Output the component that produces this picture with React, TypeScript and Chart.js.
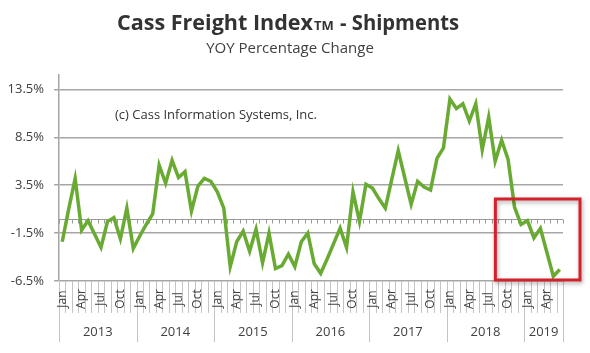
import React, { useEffect, useRef } from "react";
import { Chart, registerables } from "chart.js";

Chart.register(...registerables);

const YEARS = ["2013", "2014", "2015", "2016", "2017", "2018", "2019"];
const MONTHS = ["Jan", "Feb", "Mar", "Apr", "May", "Jun", "Jul", "Aug", "Sep", "Oct", "Nov", "Dec"];
const SHOWN_MONTHS = ["Jan", "Apr", "Jul", "Oct"];
const Y_TICKS = [-6.5, -1.5, 3.5, 8.5, 13.5];

const VALUES_2013 = [-2.4, 1.0, 4.2, -1.2, -0.2, -1.6, -3.0, -0.3, 0.1, -2.1, 1.1, -3.1];
const VALUES_2014 = [-1.8, -0.6, 0.5, 5.6, 3.7, 6.1, 4.3, 4.9, 0.8, 3.4, 4.2, 3.9];
const VALUES_2015 = [2.8, 1.1, -5.0, -2.4, -1.3, -3.4, -1.1, -4.6, -1.5, -5.2, -4.9, -3.7];
const VALUES_2016 = [-5.0, -2.4, -1.5, -4.7, -5.7, -4.2, -2.6, -1.0, -3.0, 2.8, -0.3, 3.6];
const VALUES_2017 = [3.2, 2.1, 1.1, 4.1, 7.1, 4.3, 1.5, 3.9, 3.3, 3.0, 6.3, 7.4];
const VALUES_2018 = [12.5, 11.5, 12.0, 10.2, 12.0, 7.2, 10.6, 6.0, 8.2, 6.2, 1.2, -0.6];
const VALUES_2019 = [-0.2, -2.0, -1.0, -3.5, -6.0, -5.3];

const YEAR_VALUES = [VALUES_2013, VALUES_2014, VALUES_2015, VALUES_2016, VALUES_2017, VALUES_2018, VALUES_2019];
const SHIPMENTS_YOY = YEAR_VALUES.flat();
const CATEGORIES = YEARS.flatMap((y, i) => YEAR_VALUES[i].map((_, m) => `${MONTHS[m]} ${y}`));

const TITLE_MAIN = "Cass Freight Index";
const TITLE_TM = "TM";
const TITLE_END = "- Shipments";
const SUBTITLE = "YOY Percentage Change";
const COPYRIGHT = "(c) Cass Information Systems, Inc.";

const FONT = "'Open Sans', 'Liberation Sans', sans-serif";
const TEXT = "#404040";

const decor = {
  id: "decor",
  beforeDatasetsDraw(chart: any) {
    const { ctx, chartArea } = chart;
    const x = chart.scales.x;
    const y = chart.scales.y;
    const n = CATEGORIES.length;
    const w = (chartArea.right - chartArea.left) / n;
    const y0 = Math.round(y.getPixelForValue(0)) + 0.5;
    ctx.save();
    ctx.strokeStyle = "#9a9a9a";
    ctx.lineWidth = 1;
    ctx.beginPath();
    ctx.moveTo(chartArea.left, y0);
    ctx.lineTo(chartArea.right, y0);
    for (let i = 0; i <= n; i++) {
      const px = Math.round(x.getPixelForValue(0) - w / 2 + i * w) + 0.5;
      ctx.moveTo(px, y0);
      ctx.lineTo(px, y0 + 4);
    }
    ctx.stroke();
    ctx.restore();
  },
  afterDraw(chart: any) {
    const { ctx, chartArea } = chart;
    const x = chart.scales.x;
    const n = CATEGORIES.length;
    const w = (chartArea.right - chartArea.left) / n;
    const bottom = chartArea.bottom;
    ctx.save();

    // titles
    ctx.fillStyle = "#333333";
    ctx.textBaseline = "alphabetic";
    ctx.textAlign = "left";
    ctx.font = `bold 22px ${FONT}`;
    ctx.fillText(TITLE_MAIN, 117, 30, 196);
    ctx.font = `bold 13px ${FONT}`;
    ctx.fillText(TITLE_TM, 314, 30, 20);
    ctx.font = `bold 22px ${FONT}`;
    ctx.fillText(TITLE_END, 340, 30, 119);
    ctx.fillStyle = TEXT;
    ctx.font = `15px ${FONT}`;
    ctx.textAlign = "center";
    ctx.fillText(SUBTITLE, 290, 53, 170);

    // copyright
    ctx.fillStyle = "#333333";
    ctx.textAlign = "left";
    ctx.font = `13px ${FONT}`;
    ctx.fillText(COPYRIGHT, 115, 119, 203);

    // category separators
    ctx.strokeStyle = "#c4c4c4";
    ctx.lineWidth = 1;
    ctx.beginPath();
    let idx = 0;
    const yearStarts: number[] = [];
    YEAR_VALUES.forEach((vals) => {
      yearStarts.push(idx);
      idx += vals.length;
    });
    yearStarts.push(n);
    for (let i = 0; i <= n; i++) {
      const px = Math.round(x.getPixelForValue(0) - w / 2 + i * w) + 0.5;
      const isYear = yearStarts.includes(i);
      ctx.moveTo(px, bottom);
      ctx.lineTo(px, isYear ? bottom + 61 : bottom + 32);
    }
    ctx.stroke();

    // month labels
    ctx.fillStyle = TEXT;
    ctx.font = `12px ${FONT}`;
    ctx.textAlign = "center";
    ctx.textBaseline = "middle";
    CATEGORIES.forEach((c, i) => {
      const m = c.split(" ")[0];
      if (!SHOWN_MONTHS.includes(m)) return;
      const px = x.getPixelForValue(i);
      ctx.save();
      ctx.translate(px, bottom + 18);
      ctx.rotate(-Math.PI / 2);
      ctx.fillText(m, 0, 0);
      ctx.restore();
    });

    // year labels
    ctx.font = `13px ${FONT}`;
    YEARS.forEach((yr, k) => {
      const a = x.getPixelForValue(yearStarts[k]) - w / 2;
      const b = x.getPixelForValue(yearStarts[k + 1] - 1) + w / 2;
      ctx.fillText(yr, (a + b) / 2, bottom + 51);
    });

    // highlight box
    const bx0 = x.getPixelForValue(n - 10) - w / 2 - 3;
    ctx.shadowColor = "rgba(0,0,0,0.35)";
    ctx.shadowBlur = 4;
    ctx.shadowOffsetX = 1;
    ctx.shadowOffsetY = 2;
    ctx.strokeStyle = "#d3222b";
    ctx.lineWidth = 3;
    ctx.strokeRect(bx0, 199, 580 - bx0, bottom - 1 - 199);
    ctx.restore();
  },
};

export default function App() {
  const ref = useRef<HTMLCanvasElement | null>(null);
  useEffect(() => {
    if (!ref.current) return;
    const chart = new Chart(ref.current, {
      type: "line",
      data: {
        labels: CATEGORIES,
        datasets: [
          {
            data: SHIPMENTS_YOY,
            borderColor: "#68aa32",
            borderWidth: 3.5,
            pointRadius: 0,
            tension: 0,
            fill: false,
          },
        ],
      },
      options: {
        animation: false,
        responsive: false,
        devicePixelRatio: 1,
        layout: { padding: { top: 75, right: 27, bottom: 72, left: 0 } },
        plugins: { legend: { display: false }, tooltip: { enabled: false }, title: { display: false } },
        scales: {
          x: { type: "category", display: false, offset: true },
          y: {
            min: -6.5,
            max: 15,
            afterBuildTicks: (s: any) => {
              s.ticks = Y_TICKS.map((v) => ({ value: v }));
            },
            afterFit: (s: any) => {
              s.width = 59;
            },
            border: { display: true, color: "#a6a6a6", width: 1.5 },
            grid: { color: "#a6a6a6", lineWidth: 1.5, drawTicks: true, tickLength: 5 },
            ticks: {
              padding: 10,
              color: TEXT,
              font: { family: FONT, size: 13 },
              callback: (v: any) => `${Number(v).toFixed(1)}%`,
            },
          },
        },
      },
      plugins: [decor],
    });
    return () => chart.destroy();
  }, []);
  return (
    <div style={{ position: "absolute", left: 0, top: 0, width: 590, height: 353, background: "#fff" }}>
      <canvas ref={ref} width={590} height={353} />
    </div>
  );
}
